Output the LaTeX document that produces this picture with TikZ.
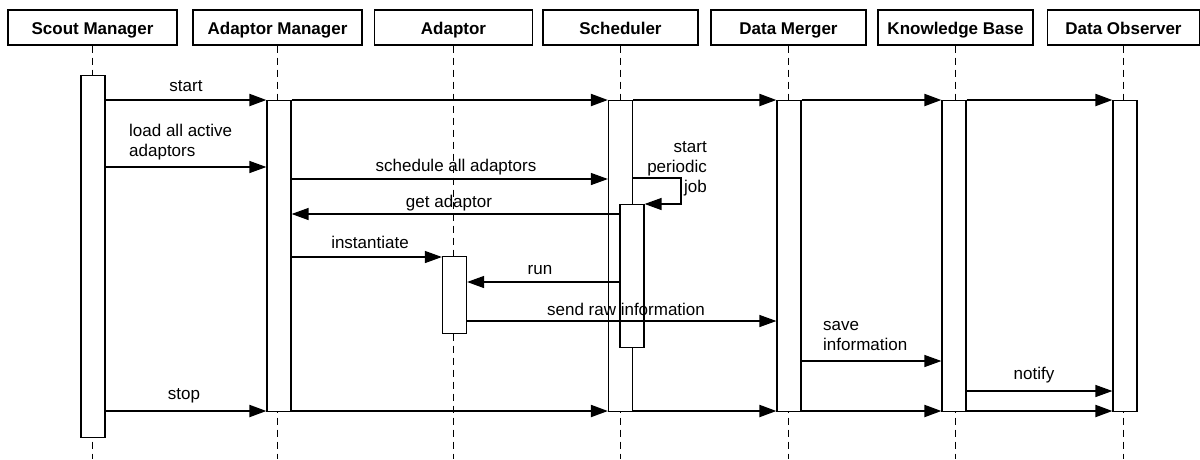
\documentclass[tikz,border=0pt]{standalone}
\usepackage{fontspec}
\setmainfont{Liberation Sans}
\usetikzlibrary{arrows.meta}
\begin{document}
\begin{tikzpicture}[x=1pt,y=-1pt,
  hdr/.style={draw, line width=1.2pt, minimum height=35pt, inner sep=0pt, text height=13pt, text depth=0pt, font=\fontsize{17}{20}\selectfont\bfseries},
  life/.style={line width=1pt, dash pattern=on 7pt off 5pt},
  act/.style={draw, fill=white, line width=1.2pt, minimum width=24pt, inner sep=0pt, anchor=north},
  msg/.style={line width=1.3pt, -{Triangle[length=17pt,width=12pt]}},
  boldmsg/.style={msg, line width=2pt},
  lbl/.style={font=\fontsize{17}{20}\selectfont, inner sep=0pt},
]
\useasboundingbox (0,0) rectangle (1200,459);
% headers
\node[hdr, minimum width=169pt] (hSM) at (92.5,27.5) {Scout Manager};
\node[hdr, minimum width=169pt] (hAM) at (277.5,27.5) {Adaptor Manager};
\node[hdr, minimum width=158pt] (hAD) at (453.5,27.5) {Adaptor};
\node[hdr, minimum width=155pt] (hSC) at (620.5,27.5) {Scheduler};
\node[hdr, minimum width=155pt] (hDM) at (788.5,27.5) {Data Merger};
\node[hdr, minimum width=155pt] (hKB) at (955.5,27.5) {Knowledge Base};
\node[hdr, minimum width=152pt] (hDO) at (1123.5,27.5) {Data Observer};
% lifelines
\foreach \h in {hSM,hAM,hAD,hSC,hDM,hKB,hDO}
  \draw[life] (\h.south) -- (\h.south |- 0,459);
% activations
\node[act, minimum height=362pt] (aSM) at (93,75) {};
\node[act, minimum height=311pt] (aAM) at (279,100) {};
\node[act, minimum height=311pt] (aSC) at (620.5,100) {};
\node[act, minimum height=311pt] (aDM) at (789,100) {};
\node[act, minimum height=311pt] (aKB) at (954,100) {};
\node[act, minimum height=311pt] (aDO) at (1125,100) {};
\node[act, minimum height=143pt] (aSC2) at (632,204) {};
\node[act, minimum height=77pt] (aAD) at (454.5,256) {};
% start chain
\draw[boldmsg] (aSM.east |- 0,100) -- (aAM.west |- 0,100);
\draw[boldmsg] (aAM.east |- 0,100) -- (aSC.west |- 0,100);
\draw[boldmsg] (aSC.east |- 0,100) -- (aDM.west |- 0,100);
\draw[boldmsg] (aDM.east |- 0,100) -- (aKB.west |- 0,100);
\draw[boldmsg] (aKB.east |- 0,100) -- (aDO.west |- 0,100);
\node[lbl] (lstart) at (186,86) {start};
% load
\draw[msg] (aSM.east |- 0,167) -- (aAM.west |- 0,167);
\node[lbl, align=left, anchor=west] (lload) at (129,142) {load all active\\adaptors};
% schedule
\draw[msg] (aAM.east |- 0,179) -- (aSC.west |- 0,179);
\node[lbl] (lsched) at (456,167) {schedule all adaptors};
% self
\coordinate (sp1) at (681,178);
\coordinate (sp2) at (681,204);
\draw[msg] (aSC.east |- 0,178) -- (sp1) -- (sp2) -- (aSC2.north east);
\node[lbl, align=right, anchor=east] (lperiod) at (707,169) {start\\periodic\\job};
% get adaptor
\draw[msg] (aSC2.west |- 0,214) -- (aAM.east |- 0,214);
\node[lbl] (lget) at (449,203) {get adaptor};
% instantiate
\draw[msg] (aAM.east |- 0,257) -- (aAD.west |- 0,257);
\node[lbl] (linst) at (370,242) {instantiate};
% run
\draw[msg] (aSC2.west |- 0,282) -- (aAD.east |- 0,282);
\node[lbl] (lrun) at (540,270) {run};
% send raw
\draw[msg] (aAD.east |- 0,321) -- (aDM.west |- 0,321);
\node[lbl] (lsend) at (626,309) {send raw information};
% save
\draw[msg] (aDM.east |- 0,361) -- (aKB.west |- 0,361);
\node[lbl, align=left, anchor=west] (lsave) at (823,336.5) {save\\information};
% notify
\draw[msg] (aKB.east |- 0,391) -- (aDO.west |- 0,391);
\node[lbl] (lnotify) at (1034,375) {notify};
% stop chain
\draw[boldmsg] (aSM.east |- 0,411) -- (aAM.west |- 0,411);
\draw[boldmsg] (aAM.east |- 0,411) -- (aSC.west |- 0,411);
\draw[boldmsg] (aSC.east |- 0,411) -- (aDM.west |- 0,411);
\draw[boldmsg] (aDM.east |- 0,411) -- (aKB.west |- 0,411);
\draw[boldmsg] (aKB.east |- 0,411) -- (aDO.west |- 0,411);
\node[lbl] (lstop) at (184,396) {stop};
\end{tikzpicture}
\end{document}
